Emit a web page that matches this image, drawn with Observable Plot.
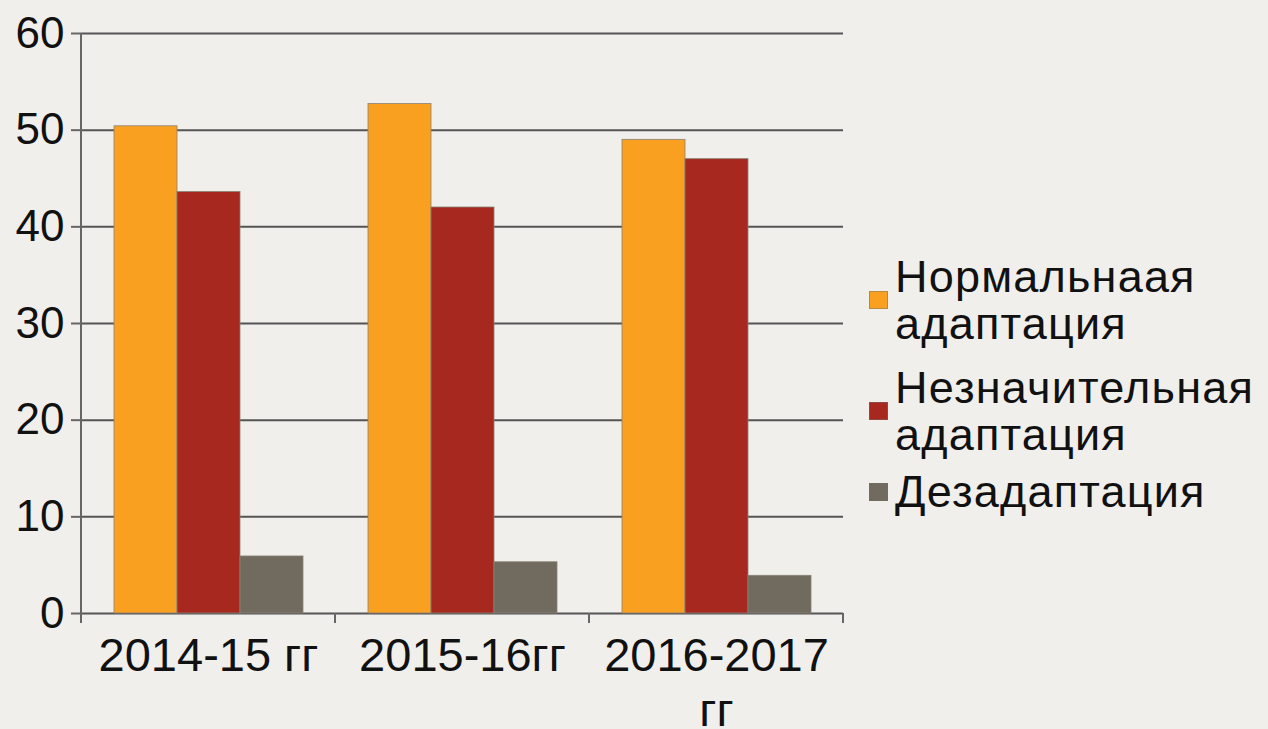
<!DOCTYPE html>
<html>
<head>
<meta charset="utf-8">
<script src="https://cdn.jsdelivr.net/npm/d3@7"></script>
<script src="https://cdn.jsdelivr.net/npm/@observablehq/plot@0.6"></script>
<style>
  html, body { margin: 0; padding: 0; background: #F0EFEB; width: 1268px; height: 729px; overflow: hidden; }
  #wrap { position: relative; width: 1268px; height: 729px; font-family: "Liberation Sans", Arial, sans-serif; }
  #legend { position: absolute; left: 869px; top: 253px; width: 399px; color: #111; }
  .item { display: flex; align-items: center; }
  .item:nth-child(1) { margin-bottom: 17px; }
  .item:nth-child(2) { margin-bottom: 10px; }
  .sw { width: 19px; height: 18px; flex: none; margin-right: 7px; box-sizing: border-box; border: 1px solid rgba(120,110,100,0.5); }
  .lab { font-size: 45px; line-height: 47px; letter-spacing: 1.2px; width: 372px; }
</style>
</head>
<body>
<div id="wrap"><div id="chart"></div><div id="legend"></div></div>
<script>
const groups = ["2014-15 гг", "2015-16гг", "2016-2017 гг"];
const seriesNames = ["Нормальнаая адаптация", "Незначительная адаптация", "Дезадаптация"];
const normalValues = [50.4, 52.7, 49.0];
const minorValues = [43.6, 42.0, 47.0];
const disadaptValues = [5.9, 5.3, 3.9];
const yTicks = [0, 10, 20, 30, 40, 50, 60];
const colors = ["#F9A021", "#A6281E", "#716B5F"];

const seriesValues = [normalValues, minorValues, disadaptValues];
const data = groups.flatMap((g, i) => seriesNames.map((s, j) => ({group: g, series: s, value: seriesValues[j][i]})));

const chart = Plot.plot({
  width: 860,
  height: 729,
  marginLeft: 80,
  marginRight: 17,
  marginTop: 33,
  marginBottom: 116,
  style: {fontFamily: "'Liberation Sans', Arial, sans-serif", background: "transparent", color: "#111", overflow: "visible"},
  fx: {domain: groups, padding: 0, label: null},
  x: {domain: seriesNames, paddingInner: 0, paddingOuter: 0.5, axis: null},
  y: {domain: [0, 60], axis: null},
  color: {domain: seriesNames, range: colors},
  marks: [
    Plot.ruleY(yTicks, {stroke: "#555", strokeWidth: 2}),
    Plot.barY(data, {fx: "group", x: "series", y: "value", fill: "series", stroke: "#8a8276", strokeWidth: 0.8}),
    Plot.axisY({ticks: yTicks, tickSize: 10, tickPadding: 7, fontSize: 44, stroke: "#666", strokeWidth: 2, label: null}),
    Plot.axisFx({anchor: "bottom", tickSize: 0, tickPadding: 19, fontSize: 47, lineWidth: 6.0, lineHeight: 1.16, label: null})
  ]
});

// axis line and category-boundary ticks, positioned from Plot's own scales
const fx = chart.scale("fx");
const y = chart.scale("y");
const bounds = fx.domain.map(d => fx.apply(d)).concat([fx.apply(fx.domain[fx.domain.length - 1]) + fx.bandwidth]);
const y0 = y.apply(0), yTop = y.apply(60);
const g = d3.select(chart).append("g").attr("stroke", "#666").attr("stroke-width", 2);
g.append("line").attr("x1", bounds[0]).attr("x2", bounds[0]).attr("y1", yTop).attr("y2", y0 + 10);
g.selectAll("line.b").data(bounds).join("line").attr("class", "b")
  .attr("x1", d => d).attr("x2", d => d).attr("y1", y0).attr("y2", y0 + 10);

document.getElementById("chart").appendChild(chart);

const legend = d3.select("#legend");
seriesNames.forEach((s, i) => {
  const it = legend.append("div").attr("class", "item");
  it.append("div").attr("class", "sw").style("background", colors[i]);
  it.append("div").attr("class", "lab").text(s);
});
</script>
</body>
</html>
